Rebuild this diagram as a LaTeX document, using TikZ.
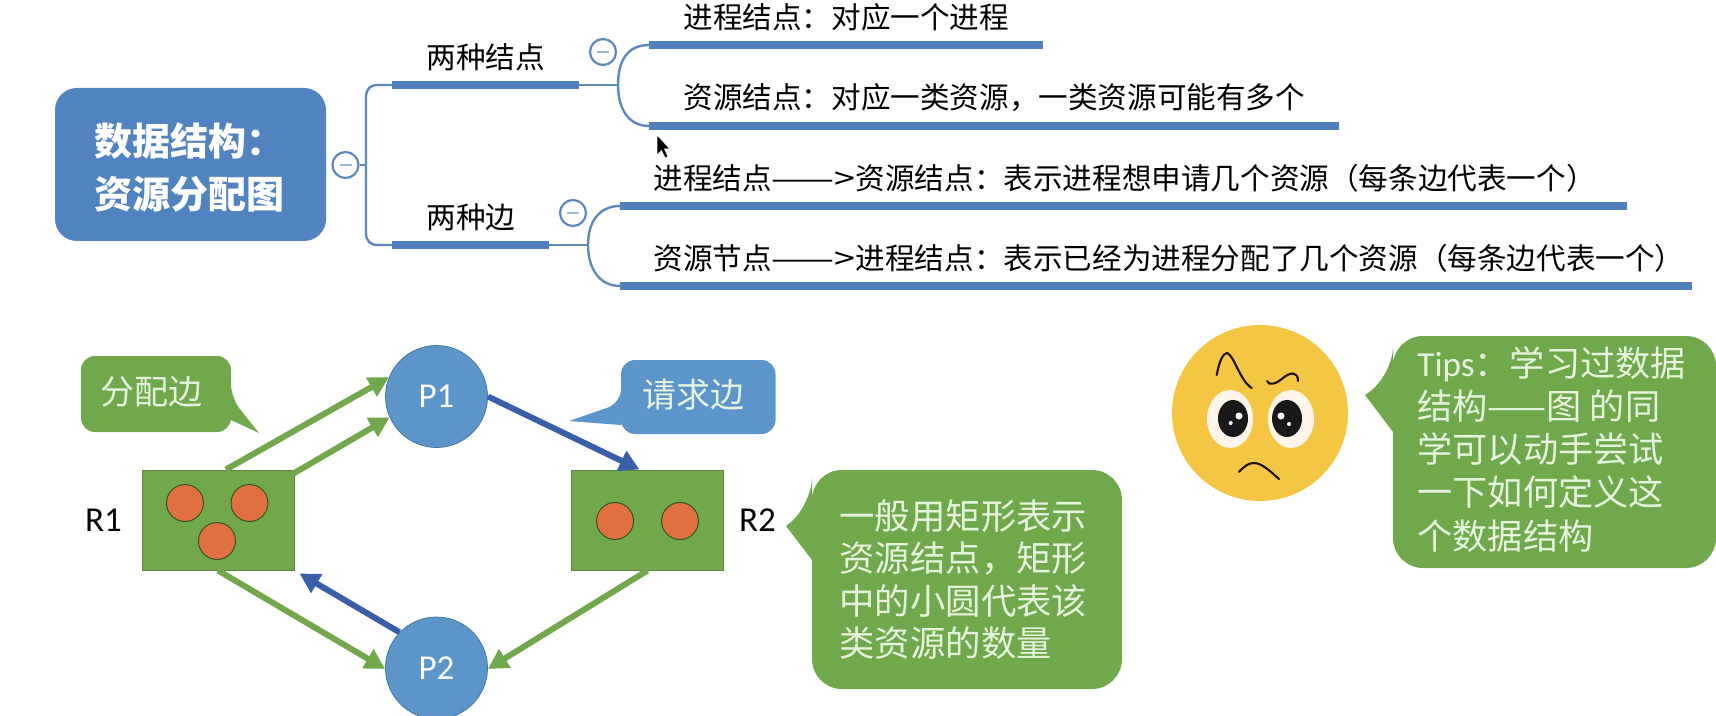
\documentclass[tikz,border=0pt]{standalone}
\usepackage{fontspec}
\setmainfont{Carlito}
\newfontfamily\cjk{Noto Sans CJK SC}
\usetikzlibrary{arrows.meta}
\definecolor{rootblue}{HTML}{5283C1}
\definecolor{barblue}{HTML}{4F7FBD}
\definecolor{linkblue}{HTML}{5E88BC}
\definecolor{nodeblue}{HTML}{5B95C9}
\definecolor{arrowblue}{HTML}{3A5EA8}
\definecolor{leaf}{HTML}{70A84B}
\definecolor{dot}{HTML}{E0703F}
\definecolor{face}{HTML}{F4C644}
\definecolor{soft}{HTML}{E6F3DC}
\newcommand{\longarrow}{\scalebox{1.27}[1]{——>}}
\tikzset{
  x=0.5pt,y=-0.5pt,
  bar/.style={line width=4pt,barblue},
  link/.style={line width=1.2pt,linkblue},
  fold/.style={circle,draw=linkblue,fill=white,line width=1.1pt,minimum size=13pt,inner sep=0pt},
  foldmark/.style={line width=1pt,linkblue!60},
  topic/.style={anchor=west,inner sep=0pt,font=\cjk\fontsize{14.8}{16}\selectfont,text=black},
  proc/.style={circle,fill=nodeblue,draw=nodeblue!80!black,line width=.4pt,minimum size=51pt,inner sep=0pt,text=white,font=\fontsize{17.5}{20}\selectfont},
  res/.style={rectangle,fill=leaf,draw=leaf!80!black,line width=.5pt,minimum width=76pt,minimum height=50pt,inner sep=0pt},
  unit/.style={circle,fill=dot,draw=leaf!50!black,line width=.5pt,minimum size=18.5pt,inner sep=0pt},
  tagname/.style={inner sep=0pt,font=\fontsize{17.5}{20}\selectfont,text=black},
  garrow/.style={line width=3pt,leaf,-{Triangle[length=10pt,width=10.5pt]}},
  barrow/.style={line width=3pt,arrowblue,-{Triangle[length=10pt,width=10.5pt]}},
  bubble/.style={inner sep=0pt,text=soft,align=left,font=\cjk\fontsize{17.5}{21}\selectfont},
  brow/.style={line width=1.05pt,black!85!brown,line cap=round},
}
\begin{document}
\begin{tikzpicture}
\useasboundingbox (0,0) rectangle (1716,716);
% root
\node (root) at (190.5,164.5) [rectangle,rounded corners=11pt,fill=rootblue,minimum width=135.5pt,minimum height=76.5pt,inner sep=0pt] {};
\node (roottext) at (94,168) [anchor=west,inner sep=0pt,align=left,text=white,font=\cjk\bfseries\fontsize{19}{26.5}\selectfont] {数据结构：\\资源分配图};
% coordinates
\coordinate (trunk) at (366,165);
\coordinate (t1w) at (392,85); \coordinate (t1e) at (579,85);
\coordinate (t2w) at (392,245); \coordinate (t2e) at (549,245);
\coordinate (j1) at (618,85); \coordinate (j2) at (588,245);
\coordinate (l1w) at (649,45); \coordinate (l1e) at (1043,45);
\coordinate (l2w) at (649,126); \coordinate (l2e) at (1339,126);
\coordinate (l3w) at (620,206); \coordinate (l3e) at (1627,206);
\coordinate (l4w) at (620,286); \coordinate (l4e) at (1692,286);
% fold buttons
\node[fold] (f0) at (345.5,165) {};
\node[fold] (f1) at (603,52) {};
\node[fold] (f2) at (573,213) {};
\draw[foldmark] (339.5,165) -- (351.5,165);
\draw[foldmark] (597,52) -- (609,52);
\draw[foldmark] (567,213) -- (579,213);
% links
\draw[link] (f0.east) -- (trunk);
\draw[link] (t1w) -- (378,85) .. controls (370,85) and (366,89) .. (366,97) -- (366,233) .. controls (366,241) and (370,245) .. (378,245) -- (t2w);
\draw[link] (t1e) -- (j1) (t2e) -- (j2);
\draw[link] (l1w) .. controls (628,45) and (618,60) .. (j1) .. controls (618,108) and (628,126) .. (l2w);
\draw[link] (l3w) .. controls (599,206) and (588,222) .. (j2) .. controls (588,268) and (599,286) .. (l4w);
% bars
\draw[bar] (t1w) -- (t1e);
\draw[bar] (t2w) -- (t2e);
\draw[bar] (l1w) -- (l1e);
\draw[bar] (l2w) -- (l2e);
\draw[bar] (l3w) -- (l3e);
\draw[bar] (l4w) -- (l4e);
% topic texts
\node[topic] (a1) at (426,57) {两种结点};
\node[topic] (a2) at (426,217) {两种边};
\node[topic] (b1) at (683,17) {进程结点：对应一个进程};
\node[topic] (b2) at (683,98) {资源结点：对应一类资源，一类资源可能有多个};
\node[topic] (b3) at (653,178) {进程结点\longarrow 资源结点：表示进程想申请几个资源（每条边代表一个）};
\node[topic] (b4) at (653,258) {资源节点\longarrow 进程结点：表示已经为进程分配了几个资源（每条边代表一个）};
% cursor
\fill[black,draw=white,line width=.3pt] (657,135) -- (657,155) -- (661.5,150.5) -- (665,158) -- (668,156.5) -- (664.5,149) -- (670,149) -- cycle;
% graph
\node[proc] (P1) at (436.5,396.5) {P1};
\node[proc] (P2) at (436.5,668) {P2};
\node[res] (R1) at (218,520) {};
\node[res] (R2) at (647.5,520) {};
\node[unit] (u1) at (185,503) {};
\node[unit] (u2) at (249.5,503) {};
\node[unit] (u3) at (217,541) {};
\node[unit] (u4) at (615,521) {};
\node[unit] (u5) at (680,521) {};
\node[tagname] (r1) at (103.5,520) {R1};
\node[tagname] (r2) at (757.5,520) {R2};
\draw[garrow] ([xshift=4]R1.north) -- (P1.158);
\draw[garrow] ([shift={(-1,4)}]R1.north east) -- (P1.204);
\draw[barrow] (P1.0) -- ([xshift=-4]R2.north);
\draw[barrow] (P2.136) -- ([shift={(5,3)}]R1.south east);
\draw[garrow] (R1.south) -- (P2.181);
\draw[garrow] (R2.south) -- (P2.-1);
% callouts
\fill[leaf,rounded corners=7pt] (231,398) [sharp corners] -- (259,433) -- (231,420) [rounded corners=7pt] -- (231,432) -- (81,432) -- (81,356) -- (231,356) -- cycle;
\node[bubble,font=\cjk\fontsize{17}{20}\selectfont] (c1) at (151,392) {分配边};
\fill[nodeblue,rounded corners=7pt] (621,403) [sharp corners] -- (569,421) -- (621,425) [rounded corners=7pt] -- (621,434) -- (775.5,434) -- (775.5,360) -- (621,360) -- cycle;
\node[bubble,font=\cjk\fontsize{17}{20}\selectfont] (c2) at (693,395) {请求边};
\fill[leaf,rounded corners=15pt] (812,507) [sharp corners] -- (786,526) -- (812,560) [rounded corners=15pt] -- (812,689) -- (1122,689) -- (1122,470) -- (812,470) -- cycle;
\node[bubble,anchor=north west,font=\cjk\fontsize{17.7}{21.2}\selectfont] (c3) at (839,499) {一般用矩形表示\\资源结点，矩形\\中的小圆代表该\\类资源的数量};
\fill[leaf,rounded corners=15pt] (1393,376) [sharp corners] -- (1365,395) -- (1393,432) [rounded corners=15pt] -- (1393,568) -- (1716,568) -- (1716,336) -- (1393,336) -- cycle;
\node[bubble,anchor=north west,font=\cjk\fontsize{17.6}{21.6}\selectfont] (c4) at (1417,346) {{\fontspec{Carlito}Tips}：学习过数据\\结构——图 的同\\学可以动手尝试\\一下如何定义这\\个数据结构};
% face
\fill[face] (1260,413) circle [radius=88];
\fill[white!92!orange] (1230,419) ellipse [x radius=23,y radius=29];
\fill[white!92!orange] (1291,419) ellipse [x radius=23,y radius=29];
\fill[black!90] (1233,418.5) ellipse [x radius=15,y radius=18.5];
\fill[black!90] (1287,418.5) ellipse [x radius=15,y radius=18.5];
\fill[white] (1239,416) circle [radius=3.5]; \fill[white] (1230.7,423) circle [radius=2];
\fill[white] (1281,416) circle [radius=3.5]; \fill[white] (1289,424) circle [radius=2];
\draw[brow] (1216.7,375) .. controls (1219,362) and (1223,353) .. (1227,353) .. controls (1234,355) and (1240,381) .. (1251.7,388);
\draw[brow] (1267,381) .. controls (1269,386) and (1276,384) .. (1283,378) .. controls (1289,373) and (1298,370) .. (1298,381);
\draw[brow] (1239,472) .. controls (1244,466) and (1249,463) .. (1254,463) .. controls (1262,463) and (1271,472) .. (1279,479);
\end{tikzpicture}
\end{document}
